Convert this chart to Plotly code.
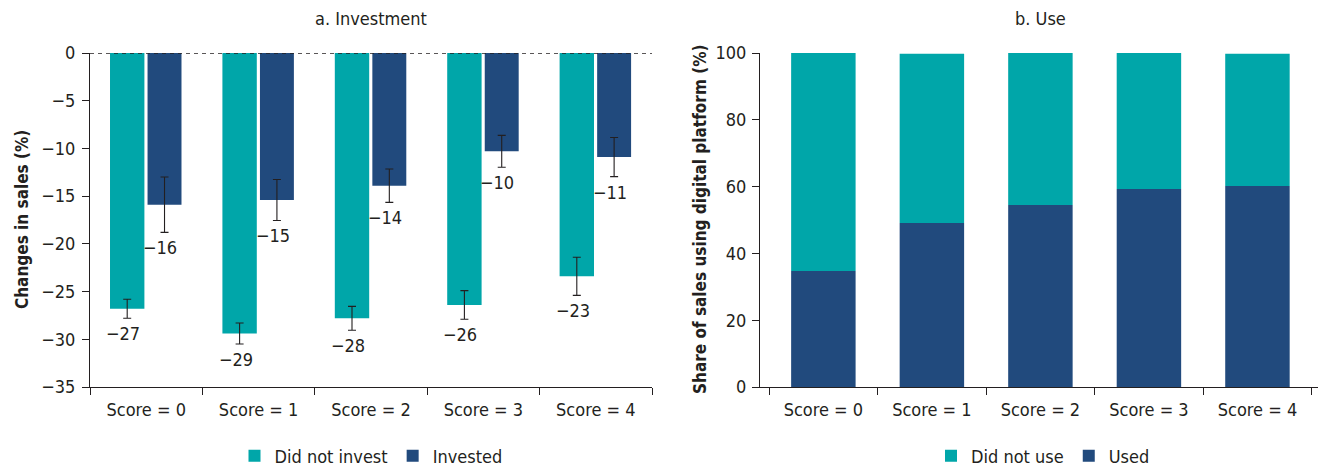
import plotly.graph_objects as go

# ---- data ----
categories = ["Score = 0", "Score = 1", "Score = 2", "Score = 3", "Score = 4"]

# Panel a: change in sales (%) with error margins
not_invest = [-26.8, -29.4, -27.8, -26.4, -23.4]
not_invest_err = [1.0, 1.1, 1.25, 1.5, 2.0]
invested = [-15.9, -15.4, -13.9, -10.3, -10.9]
invested_err = [2.9, 2.15, 1.75, 1.67, 2.05]

# Panel b: share of sales using a digital platform (%)
used = [34.7, 49.1, 54.5, 59.3, 60.2]
not_used = [65.3, 50.7, 45.5, 40.7, 39.6]

TEAL = "#00A6A9"
NAVY = "#214A7D"
INK = "#231F20"
FONT = "DejaVu Sans Condensed, Liberation Sans Narrow, Arial Narrow, sans-serif"
FS = 18

W, H = 1319, 466


def px_x(p):
    return p / W


def px_y(p):
    return 1 - p / H


fig = go.Figure()

err_style = dict(color=INK, thickness=1.1, width=4)
no_line = dict(width=0)

fig.add_trace(go.Bar(
    x=categories, y=not_invest, name="Did not invest",
    marker=dict(color=TEAL, line=no_line),
    offset=-0.322, width=0.306, xaxis="x", yaxis="y", legend="legend",
    error_y=dict(type="data", array=not_invest_err, **err_style),
))
fig.add_trace(go.Bar(
    x=categories, y=invested, name="Invested",
    marker=dict(color=NAVY, line=no_line),
    offset=0.012, width=0.302, xaxis="x", yaxis="y", legend="legend",
    error_y=dict(type="data", array=invested_err, **err_style),
))

fig.add_trace(go.Bar(
    x=categories, y=not_used, base=used, name="Did not use",
    marker=dict(color=TEAL, line=no_line),
    offset=-0.297, width=0.594, xaxis="x2", yaxis="y2", legend="legend2",
))
fig.add_trace(go.Bar(
    x=categories, y=used, name="Used",
    marker=dict(color=NAVY, line=no_line),
    offset=-0.297, width=0.594, xaxis="x2", yaxis="y2", legend="legend2",
))

# value labels under each error bar
annotations = []
for cat, v, e in zip(categories, not_invest, not_invest_err):
    annotations.append(dict(
        x=cat, y=v - e, xref="x", yref="y", xshift=-23, yshift=-3,
        yanchor="top", showarrow=False, text=f"\u2212{abs(round(v))}",
        font=dict(size=FS, color=INK, family=FONT),
    ))
for cat, v, e in zip(categories, invested, invested_err):
    annotations.append(dict(
        x=cat, y=v - e, xref="x", yref="y", xshift=14, yshift=-3,
        yanchor="top", showarrow=False, text=f"\u2212{abs(round(v))}",
        font=dict(size=FS, color=INK, family=FONT),
    ))

# panel titles
annotations.append(dict(x=px_x(371), y=px_y(18), xref="paper", yref="paper",
                        xanchor="center", yanchor="middle",
                        text="a. Investment", showarrow=False,
                        font=dict(size=FS, color=INK, family=FONT)))
annotations.append(dict(x=px_x(1040), y=px_y(18), xref="paper", yref="paper",
                        xanchor="center", yanchor="middle",
                        text="b. Use", showarrow=False,
                        font=dict(size=FS, color=INK, family=FONT)))

# y-axis titles
annotations.append(dict(x=px_x(22), y=px_y(220), xref="paper", yref="paper",
                        text="<b>Changes in sales (%)</b>", textangle=-90,
                        xanchor="center", yanchor="middle",
                        showarrow=False, font=dict(size=17, color=INK, family=FONT)))
annotations.append(dict(x=px_x(700), y=px_y(220), xref="paper", yref="paper",
                        text="<b>Share of sales using digital platform (%)</b>", textangle=-90,
                        xanchor="center", yanchor="middle",
                        showarrow=False, font=dict(size=17, color=INK, family=FONT)))

axis_common = dict(
    showgrid=False, zeroline=False, showline=True, linecolor=INK, linewidth=1.2,
    ticks="outside", ticklen=7, tickcolor=INK, tickwidth=1.2,
    tickfont=dict(size=FS, color=INK, family=FONT),
)

fig.update_layout(
    width=W, height=H,
    margin=dict(l=0, r=0, t=0, b=0, autoexpand=False),
    paper_bgcolor="white", plot_bgcolor="white",
    barmode="overlay",
    showlegend=True,
    font=dict(family=FONT, color=INK),
    xaxis=dict(domain=[px_x(90), px_x(652)], anchor="y", type="category",
               range=[-0.5, 4.5], tickson="boundaries", ticklabelstandoff=6,
               **axis_common),
    yaxis=dict(domain=[px_y(387), px_y(53)], anchor="x", range=[-35, 0],
               dtick=5, tickformat="d", ticklabelstandoff=3, **axis_common),
    xaxis2=dict(domain=[px_x(760), px_x(1318)], anchor="y2", type="category",
                range=[-0.584, 4.558], tickson="boundaries", ticklabelstandoff=6,
                **axis_common),
    yaxis2=dict(domain=[px_y(387), px_y(53)], anchor="x2", range=[0, 100],
                dtick=20, ticklabelstandoff=2, **axis_common),
    legend=dict(orientation="h", x=px_x(371), y=px_y(456), xanchor="center",
                yanchor="middle", font=dict(size=FS, color=INK, family=FONT),
                bgcolor="rgba(0,0,0,0)"),
    legend2=dict(orientation="h", x=px_x(1043), y=px_y(456), xanchor="center",
                 yanchor="middle", font=dict(size=FS, color=INK, family=FONT),
                 bgcolor="rgba(0,0,0,0)"),
    annotations=annotations,
    shapes=[dict(type="line", xref="x domain", yref="y", x0=0, x1=1, y0=0, y1=0,
                 line=dict(color=INK, width=1.4, dash="4px,4px"), layer="above")],
)

fig.write_html("out.html")
